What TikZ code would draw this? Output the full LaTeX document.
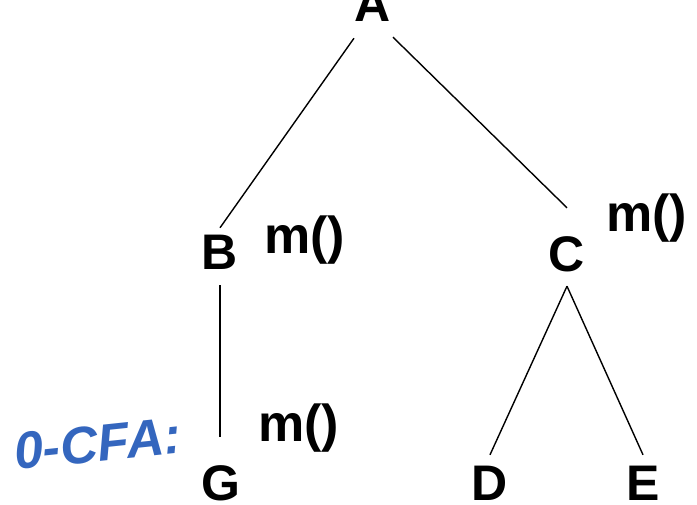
\documentclass[tikz,border=0pt]{standalone}
\usepackage{fontspec}
\setmainfont{Liberation Sans}
\usetikzlibrary{calc}
\definecolor{pen}{RGB}{52,102,190}
\tikzset{
  letter/.style={font=\fontsize{50}{60}\selectfont\bfseries, text height=36pt, text depth=0pt, inner sep=0pt, anchor=base},
  mlabel/.style={font=\fontsize{52}{60}\selectfont\bfseries, inner sep=0pt, anchor=base west},
  edge/.style={line width=1.4pt, black},
  hand/.style={font=\fontsize{52}{60}\selectfont\bfseries\itshape, text=pen, inner sep=0pt, anchor=base west}
}
\begin{document}
\begin{tikzpicture}[x=1pt,y=-1pt]
\useasboundingbox (0,0) rectangle (697,505);
\node[letter] (A) at (373,22) {A};
\node[letter] (B) at (220,270) {B};
\node[letter] (C) at (567,272) {C};
\node[letter] (G) at (221,500) {G};
\node[letter] (D) at (490,500) {D};
\node[letter] (E) at (643,500) {E};
\node[mlabel] (mB) at (264,254) {m()};
\node[mlabel] (mC) at (606,232) {m()};
\node[mlabel] (mG) at (258,441) {m()};
\node[hand, rotate=6] (cfa) at (16,470) {0-CFA:};
\draw[edge] ($(A.south)+(-19,16)$) -- ($(B.north)+(0,-6)$);
\draw[edge] ($(A.south)+(20,15)$) -- ($(C.north)+(0,-28)$);
\draw[edge] ($(B.south)+(0,15)$) -- ($(G.north)+(-1,-27)$);
\draw[edge] ($(C.south)+(0,14)$) -- ($(D.north)+(0,-9)$);
\draw[edge] ($(C.south)+(0,14)$) -- ($(E.north)+(0,-9)$);
\end{tikzpicture}
\end{document}
